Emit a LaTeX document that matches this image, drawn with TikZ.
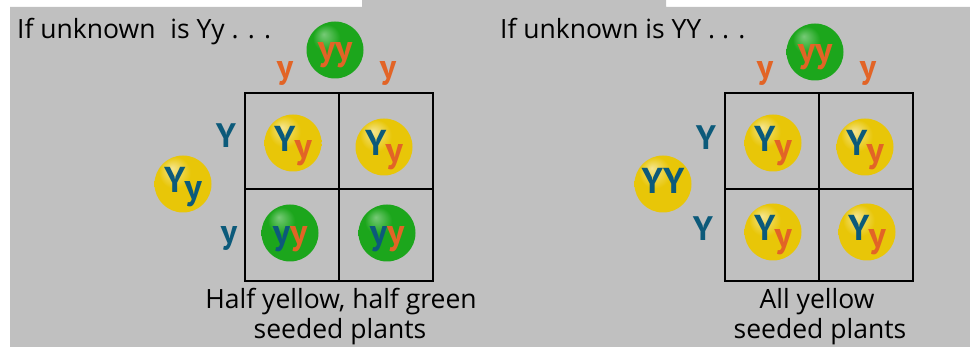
\documentclass[tikz,border=0pt]{standalone}
\usepackage{fontspec}
\setmainfont{Open Sans}
\newfontfamily\allelefont{PT Sans}

\definecolor{bggray}{RGB}{192,192,192}
\definecolor{seedyellow}{RGB}{232,198,8}
\definecolor{seedgreen}{RGB}{28,166,28}
\definecolor{alleleblue}{RGB}{12,90,122}
\definecolor{alleleorange}{RGB}{226,100,38}

% Seed shadings, light spot up left
\pgfdeclareradialshading{yellowseed}{\pgfpoint{-10bp}{14bp}}{%
  color(0bp)=(seedyellow!45!white); color(14bp)=(seedyellow);
  color(40bp)=(seedyellow); color(50bp)=(seedyellow!80!black)}
\pgfdeclareradialshading{greenseed}{\pgfpoint{-10bp}{14bp}}{%
  color(0bp)=(seedgreen!60!white); color(12bp)=(seedgreen);
  color(40bp)=(seedgreen); color(50bp)=(seedgreen!82!black)}

% Alleles
\newcommand{\bigY}{\textcolor{alleleblue}{Y}}
\newcommand{\bluey}{\textcolor{alleleblue}{y}}
\newcommand{\orangey}{\textcolor{alleleorange}{y}}
\newcommand{\lowered}[1]{\raisebox{-7pt}{\kern-1pt#1}}
\newcommand{\seedtext}[2][9pt]{\raisebox{-#1}[0pt][0pt]{\allelefont\fontsize{36}{36}\selectfont\bfseries #2}}

\tikzset{
  seed/.style={circle, minimum size=57pt, inner sep=0pt},
  yellow seed/.style={seed, shading=yellowseed},
  green seed/.style={seed, shading=greenseed},
  allele/.style={font=\allelefont\fontsize{34}{34}\selectfont\bfseries, inner sep=0pt, anchor=base},
  caption/.style={font=\fontsize{26.5}{30}\selectfont, inner sep=0pt, anchor=base},
  punnett/.style={line width=2pt, black}
}

\begin{document}
\begin{tikzpicture}[x=1pt, y=-1pt]
        \useasboundingbox (0,0) rectangle (970,347);
        \fill[white] (0,0) rectangle (970,347);
        \fill[bggray] (10,347) |- (362,7) |- (666,0) |- (970,7) -- (970,347) -- cycle;

        % Left side (unknown Yy)
        \node[caption, anchor=base west] (titleL) at (17,39) {If unknown\hspace{0.3em} is Yy . . .};

        % Define corners of the square
        \coordinate (L-nw) at (245,93);
        \coordinate (L-se) at (433,281);
        \coordinate (L-c) at (339,189);

        % Draw square
        \draw[punnett] (L-nw) rectangle (L-se);
        \draw[punnett] (L-nw -| L-c) -- (L-se -| L-c);
        \draw[punnett] (L-nw |- L-c) -- (L-se |- L-c);

        % Parents and gametes
        \node[green seed] (parentL1) at (335,50) {\seedtext[11pt]{\orangey\orangey}};
        \node[yellow seed] (parentL2) at (183,184) {\seedtext{\bigY\lowered{\bluey}}};
        \node[allele, alleleorange] (gamL1) at (285,79) {y};
        \node[allele, alleleorange] (gamL2) at (388,79) {y};
        \node[allele, alleleblue] (gamL3) at (226,148) {Y};
        \node[allele, alleleblue] (gamL4) at (229,244) {y};

        % Offspring
        \node[yellow seed] (offL1) at (293,143) {\seedtext{\bigY\lowered{\orangey}}};
        \node[yellow seed] (offL2) at (384,147) {\seedtext{\bigY\lowered{\orangey}}};
        \node[green seed] (offL3) at (290,233) {\seedtext[12pt]{\bluey\orangey}};
        \node[green seed] (offL4) at (387,233) {\seedtext[12pt]{\bluey\orangey}};

        % Label result
        \node[caption] (capL1) at (341,309) {Half yellow, half green};
        \node[caption] (capL2) at (340,339) {seeded plants};

        % Right side (unknown YY)
        \node[caption, anchor=base west] (titleR) at (500,39) {If unknown is YY . . .};

        % Define corners of the square
        \coordinate (R-nw) at (725,93);
        \coordinate (R-se) at (913,281);
        \coordinate (R-c) at (819,189);

        % Draw square
        \draw[punnett] (R-nw) rectangle (R-se);
        \draw[punnett] (R-nw -| R-c) -- (R-se -| R-c);
        \draw[punnett] (R-nw |- R-c) -- (R-se |- R-c);

        % Parents and gametes
        \node[green seed] (parentR1) at (815,52) {\seedtext[11pt]{\orangey\orangey}};
        \node[yellow seed] (parentR2) at (663,184) {\seedtext[10pt]{\bigY\bigY}};
        \node[allele, alleleorange] (gamR1) at (765,79) {y};
        \node[allele, alleleorange] (gamR2) at (868,79) {y};
        \node[allele, alleleblue] (gamR3) at (706,150) {Y};
        \node[allele, alleleblue] (gamR4) at (703,241) {Y};

        % Offspring
        \node[yellow seed] (offR1) at (773,143) {\seedtext{\bigY\lowered{\orangey}}};
        \node[yellow seed] (offR2) at (865,147) {\seedtext{\bigY\lowered{\orangey}}};
        \node[yellow seed] (offR3) at (773,232) {\seedtext{\bigY\lowered{\orangey}}};
        \node[yellow seed] (offR4) at (867,232) {\seedtext{\bigY\lowered{\orangey}}};

        % Label result
        \node[caption] (capR1) at (817,309) {All yellow};
        \node[caption] (capR2) at (820,339) {seeded plants};

    \end{tikzpicture}
\end{document}
